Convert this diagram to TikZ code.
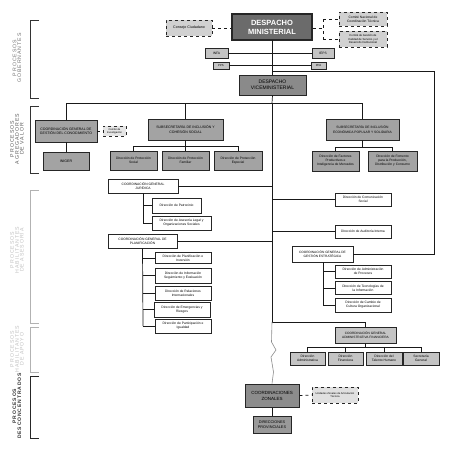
\documentclass[tikz,border=0pt]{standalone}
\usepackage{fontspec}
\setmainfont{Liberation Sans}
\newfontfamily\labfont[LetterSpace=18]{Liberation Sans}
\begin{document}
\begin{tikzpicture}[x=1pt,y=-1pt,
  base/.style={draw=black!85, line width=0.9pt, inner sep=0.2pt, align=center, font=\fontsize{3.3}{4}\selectfont},
  wbox/.style={base, fill=white, line width=0.8pt},
  mbox/.style={base, fill=black!36},
  lbox/.style={base, fill=black!23},
  dbox/.style={base, fill=black!18, dashed, line width=0.8pt},
  conn/.style={line width=0.7pt, black!90},
  dconn/.style={conn, dashed},
  brk/.style={line width=0.8pt},
  lab/.style={rotate=90, align=center, font=\labfont\fontsize{5.2}{4.9}\selectfont, inner sep=0pt}
]
\useasboundingbox (0,0) rectangle (452,450);

% ---------- side brackets ----------
\draw[brk, black!80] (39,20) -- (30,20) -- (30,98) -- (39,98);
\node[lab, text=black!55] (l1) at (17,58) {PROCESOS\\GOBERNANTES};
\draw[brk, black!80] (39,106) -- (30,106) -- (30,173) -- (39,173);
\node[lab, text=black!65] (l2) at (17,139) {PROCESOS\\AGREGADORES\\DE VALOR};
\draw[brk, black!30] (39,190) -- (30,190) -- (30,323) -- (39,323);
\node[lab, text=black!25] (l3) at (17,250) {PROCESOS\\HABILITANTES\\DE ASESOR\'IA};
\draw[brk, black!30] (39,327) -- (30,327) -- (30,372) -- (39,372);
\node[lab, text=black!25] (l4) at (17,349) {PROCESOS\\HABILITANTES\\DE APOYO};
\draw[brk, black!85] (39,376) -- (30,376) -- (30,438) -- (39,438);
\node[lab, text=black!80, font=\labfont\bfseries\fontsize{5}{5}\selectfont] (l5) at (17,406) {PROCESOS\\DESCONCENTRADOS};

% ---------- top ----------
\node[base, fill=black!58, text=white, line width=1.1pt, font=\bfseries\fontsize{7.5}{9}\selectfont, minimum width=80pt, minimum height=26pt] (min) at (272,27) {DESPACHO\\MINISTERIAL};
\node[dbox, minimum width=46pt, minimum height=16pt, font=\fontsize{3.6}{4.2}\selectfont] (cons) at (189,28) {Consejo Ciudadano};
\node[dbox, minimum width=48pt, minimum height=14pt] (cnac) at (363,19) {Comit\'e Nacional de\\Coordinaci\'on T\'ecnica};
\node[dbox, minimum width=48pt, minimum height=16pt, font=\fontsize{2.8}{3.4}\selectfont] (ccal) at (363,39) {Comit\'e de Gesti\'on de\\Calidad de Servicio y el\\Desarrollo Institucional};
\node[lbox, minimum width=23pt, minimum height=10pt] (infa) at (216.5,53) {INFA};
\node[lbox, minimum width=22pt, minimum height=10pt] (ieps) at (323,53) {IEPS};
\node[lbox, minimum width=16pt, minimum height=7pt, font=\fontsize{2.8}{3.2}\selectfont, line width=0.7pt] (pps) at (221,65.5) {PPS};
\node[lbox, minimum width=15pt, minimum height=7pt, font=\fontsize{2.8}{3.2}\selectfont, line width=0.7pt] (ppa) at (318.5,65.5) {PPA};
\node[base, fill=black!46, line width=1pt, font=\fontsize{5}{6.2}\selectfont, minimum width=67pt, minimum height=20pt] (vice) at (272.5,85) {DESPACHO\\VICEMINISTERIAL};

\draw[dconn] (cons.east) -- (min.west |- cons.east);
\coordinate (dsplit) at (323,28);
\draw[dconn] (min.east |- dsplit) -- (dsplit);
\draw[dconn] (dsplit |- cnac.west) -- (dsplit |- ccal.west);
\draw[dconn] (dsplit |- cnac.west) -- (cnac.west);
\draw[dconn] (dsplit |- ccal.west) -- (ccal.west);
\draw[conn] (min.south) -- (vice.north |- min.south) -- (vice.north);
\draw[conn] (infa.east) -- (ieps.west);
\draw[conn] (pps.east) -- (ppa.west);

% right loop line
\coordinate (r1) at (272,71);
\coordinate (r2) at (434,71);

% ---------- agregadores ----------
\node[mbox, minimum width=62pt, minimum height=22pt, font=\fontsize{3.5}{4.4}\selectfont] (cgc) at (66,131) {COORDINACI\'ON GENERAL DE\\GESTI\'ON DEL CONOCIMIENTO};
\node[dbox, minimum width=23pt, minimum height=10pt, font=\fontsize{2.6}{3.1}\selectfont, fill=black!10] (cinv) at (114.5,131) {Comit\'e de\\Investigaci\'on};
\node[mbox, minimum width=46pt, minimum height=18pt, font=\fontsize{3.6}{4.2}\selectfont] (iniger) at (66,161) {INIGER};
\node[mbox, minimum width=75pt, minimum height=21pt, font=\fontsize{3.5}{4.4}\selectfont] (subinc) at (185.5,129.5) {SUBSECRETAR\'IA DE INCLUSI\'ON Y\\COHESI\'ON SOCIAL};
\node[mbox, minimum width=47pt, minimum height=19pt] (dps) at (133.5,160.5) {Direcci\'on de Protecci\'on\\Social};
\node[mbox, minimum width=47pt, minimum height=19pt] (dpf) at (185.5,160.5) {Direcci\'on de Protecci\'on\\Familiar};
\node[mbox, minimum width=48pt, minimum height=19pt] (dpe) at (238,160.5) {Direcci\'on de Protecci\'on\\Especial};
\node[mbox, minimum width=73pt, minimum height=21pt, font=\fontsize{3.3}{4.4}\selectfont] (subeco) at (362.5,129.5) {SUBSECRETAR\'IA DE INCLUSI\'ON\\ECON\'OMICA POPULAR Y SOLIDARIA};
\node[mbox, minimum width=47pt, minimum height=20pt] (dfp) at (335.5,161) {Direcci\'on de Factores\\Productivos e\\Inteligencia de Mercados};
\node[mbox, minimum width=49pt, minimum height=20pt] (dfo) at (392.5,161) {Direcci\'on de Fomento\\para la Producci\'on,\\Distribuci\'on y Consumo};

\coordinate (v1) at (272,103);
\draw[conn] (vice.south) -- (v1);
\draw[conn] (cgc.north |- v1) -- (subeco.north |- v1);
\draw[conn] (cgc.north |- v1) -- (cgc.north);
\draw[conn] (subinc.north |- v1) -- (subinc.north);
\draw[conn] (subeco.north |- v1) -- (subeco.north);
\draw[dconn] (cgc.east) -- (cinv.west);
\draw[conn] (cgc.south) -- (iniger.north);
\coordinate (s1) at (185.5,146);
\draw[conn] (subinc.south) -- (s1);
\draw[conn] (dps.north |- s1) -- (dpe.north |- s1);
\draw[conn] (dps.north |- s1) -- (dps.north);
\draw[conn] (dpf.north |- s1) -- (dpf.north);
\draw[conn] (dpe.north |- s1) -- (dpe.north);
\coordinate (s2) at (362.5,147);
\draw[conn] (subeco.south) -- (s2);
\draw[conn] (dfp.north |- s2) -- (dfo.north |- s2);
\draw[conn] (dfp.north |- s2) -- (dfp.north);
\draw[conn] (dfo.north |- s2) -- (dfo.north);

% ---------- asesoria ----------
\node[wbox, minimum width=70pt, minimum height=14pt, font=\fontsize{3.3}{4.3}\selectfont] (cgj) at (143,186) {COORDINACI\'ON GENERAL\\JUR\'IDICA};
\node[wbox, minimum width=49pt, minimum height=15pt] (dpat) at (176.5,205.5) {Direcci\'on de Patrocinio};
\node[wbox, minimum width=59pt, minimum height=14pt] (dal) at (181.5,223) {Direcci\'on de Asesor\'ia Legal y\\Organizaciones Sociales};
\node[wbox, minimum width=69pt, minimum height=14pt, font=\fontsize{3.3}{4.3}\selectfont] (cgp) at (142.5,241) {COORDINACI\'ON GENERAL DE\\PLANIFICACI\'ON};
\node[wbox, minimum width=56pt, minimum height=11pt] (dpi) at (183,258) {Direcci\'on de Planificaci\'on e\\Inversi\'on};
\node[wbox, minimum width=56pt, minimum height=15pt] (dise) at (183,275.5) {Direcci\'on de Informaci\'on\\Seguimiento y Evaluaci\'on};
\node[wbox, minimum width=56pt, minimum height=14pt] (dri) at (183,293) {Direcci\'on de Relaciones\\Internacionales};
\node[wbox, minimum width=56pt, minimum height=15pt] (der) at (182,309.5) {Direcci\'on de Emergencias y\\Riesgos};
\node[wbox, minimum width=56pt, minimum height=14pt] (dpig) at (183,326) {Direcci\'on de Participaci\'on e\\Igualdad};
\node[wbox, minimum width=56pt, minimum height=13pt] (dcs) at (363,199.5) {Direcci\'on de Comunicaci\'on\\Social};
\node[wbox, minimum width=56pt, minimum height=13pt] (dai) at (363,231.5) {Direcci\'on de Auditor\'ia Interna};
\node[wbox, minimum width=61pt, minimum height=16pt, font=\fontsize{3.2}{4.3}\selectfont] (cge) at (322.5,254) {COORDINACI\'ON GENERAL DE\\GESTI\'ON ESTRAT\'EGICA};
\node[wbox, minimum width=56pt, minimum height=13pt] (dap) at (363,271.5) {Direcci\'on de Administraci\'on\\de Procesos};
\node[wbox, minimum width=56pt, minimum height=13pt] (dti) at (363,288) {Direcci\'on de Tecnolog\'ias de\\la Informaci\'on};
\node[wbox, minimum width=56pt, minimum height=14pt] (dcc) at (363,305) {Direcci\'on de Cambio de\\Cultura Organizacional};

\coordinate (t4) at (272,322);
\draw[conn] (v1) -- (t4);
\draw[conn] (r1) -- (r2) -- (r2 |- cge.east) -- (cge.east);
\draw[conn] (cgj.east) -- (cgj.east -| t4);
\draw[conn] (cgp.east) -- (cgp.east -| t4);
\draw[conn] (dcs.west) -- (dcs.west -| t4);
\draw[conn] (dai.west) -- (dai.west -| t4);
\coordinate (j1) at (143,223);
\draw[conn] (cgj.south) -- (j1);
\draw[conn] (j1 |- dpat.west) -- (dpat.west);
\draw[conn] (j1 |- dal.west) -- (dal.west);
\coordinate (p1) at (143,326);
\draw[conn] (cgp.south) -- (p1);
\foreach \n in {dpi,dise,dri,der,dpig} \draw[conn] (p1 |- \n.west) -- (\n.west);
\coordinate (g1) at (323,305);
\draw[conn] (cge.south -| g1) -- (g1);
\foreach \n in {dap,dti,dcc} \draw[conn] (g1 |- \n.west) -- (\n.west);

% ---------- apoyo ----------
\node[lbox, minimum width=61pt, minimum height=16pt, font=\fontsize{3.2}{4.3}\selectfont] (cgaf) at (365.5,335) {COORDINACI\'ON GENERAL\\ADMINISTRATIVA FINANCIERA};
\node[lbox, minimum width=35pt, minimum height=13pt] (dadm) at (307.5,358.5) {Direcci\'on\\Administrativa};
\node[lbox, minimum width=35pt, minimum height=13pt] (dfin) at (345.5,358.5) {Direcci\'on\\Financiera};
\node[lbox, minimum width=36pt, minimum height=13pt] (dth) at (384,358.5) {Direcci\'on del\\Talento Humano};
\node[lbox, minimum width=36pt, minimum height=13pt] (sg) at (421,358.5) {Secretar\'ia\\General};
\draw[conn] (t4) -| (cgaf.north);
\coordinate (a1) at (365.5,347);
\draw[conn] (cgaf.south) -- (a1);
\draw[conn] (dadm.north |- a1) -- (sg.north |- a1);
\foreach \n in {dadm,dfin,dth,sg} \draw[conn] (\n.north |- a1) -- (\n.north);

% ---------- desconcentrados ----------
\node[base, fill=black!45, line width=1pt, font=\fontsize{4.5}{6}\selectfont, minimum width=54pt, minimum height=23pt] (czon) at (272,395.5) {COORDINACIONES\\ZONALES};
\node[dbox, fill=black!12, minimum width=46pt, minimum height=16pt, font=\fontsize{2.6}{3.3}\selectfont] (dmes) at (335,395) {Unidades Zonales de Articulaci\'on\\T\'ecnica};
\node[base, fill=black!40, line width=1pt, font=\fontsize{3.8}{4.8}\selectfont, minimum width=38pt, minimum height=17pt] (dprov) at (272,424.5) {DIRECCIONES\\PROVINCIALES};
\draw[line width=0.6pt, black!45] (t4) -- (271.5,342) -- (276,350) -- (271,357) -- (273.5,372) -- (czon.north);
\draw[dconn] (czon.east) -- (dmes.west);
\draw[conn] (czon.south) -- (dprov.north);
\end{tikzpicture}
\end{document}
